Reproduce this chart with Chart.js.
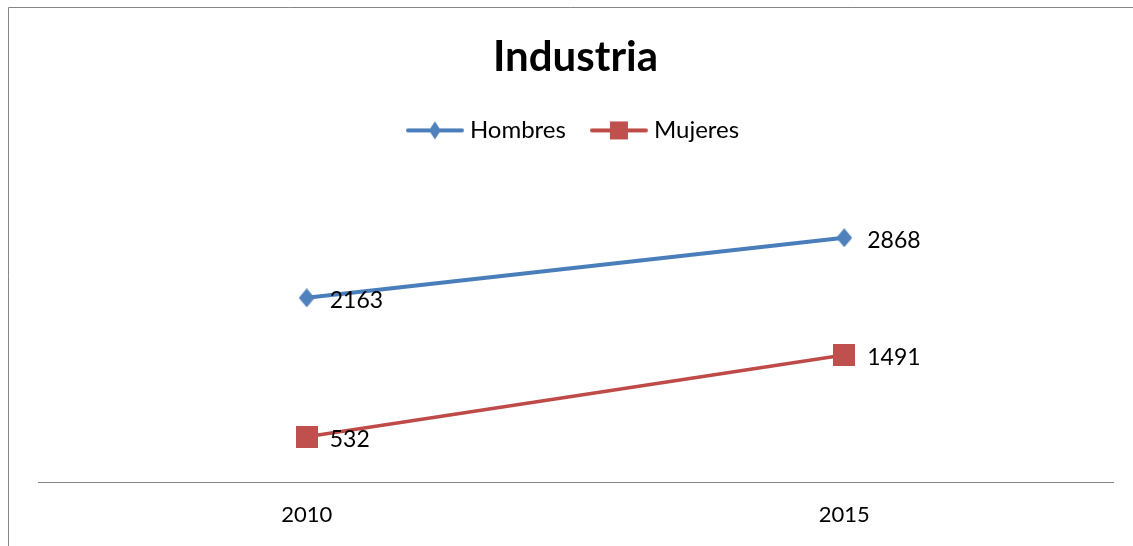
<!DOCTYPE html>
<html>
<head>
<meta charset="utf-8">
<script src="https://cdn.jsdelivr.net/npm/chart.js@4/dist/chart.umd.min.js"></script>
<style>
  html, body { margin: 0; padding: 0; background: #fff; overflow: hidden; }
  #wrap { position: relative; width: 1133px; height: 546px; }
</style>
</head>
<body>
<div id="wrap"><canvas id="c"></canvas></div>
<script>
const titleText = 'Industria';
const categories = ['2010', '2015'];
const seriesNames = ['Hombres', 'Mujeres'];
const hombres = [2163, 2868];
const mujeres = [532, 1491];
const yMin = 0;
const yMax = 3500;

const BLUE = '#4A7EBB';
const BLUE_FILL = '#4F81BD';
const RED = '#BE4B48';
const RED_FILL = '#C0504D';
const FONT = 'Lato';

function makeMarker(type, w, h, fill) {
  const c = document.createElement('canvas');
  c.width = w; c.height = h;
  const g = c.getContext('2d');
  g.fillStyle = fill;
  if (type === 'diamond') {
    g.beginPath();
    g.moveTo(w / 2, 0); g.lineTo(w, h / 2); g.lineTo(w / 2, h); g.lineTo(0, h / 2);
    g.closePath(); g.fill();
  } else {
    g.fillRect(0, 0, w, h);
  }
  return c;
}
function makeLegendIcon(type, lineColor, fill, mw, mh) {
  const W = 58, H = 20;
  const c = document.createElement('canvas');
  c.width = W; c.height = H;
  const g = c.getContext('2d');
  g.strokeStyle = lineColor; g.lineWidth = 4; g.lineCap = 'round';
  g.beginPath(); g.moveTo(2, H / 2); g.lineTo(W - 2, H / 2); g.stroke();
  g.fillStyle = fill;
  const cx = W / 2, cy = H / 2;
  if (type === 'diamond') {
    g.beginPath();
    g.moveTo(cx, cy - mh / 2); g.lineTo(cx + mw / 2, cy); g.lineTo(cx, cy + mh / 2); g.lineTo(cx - mw / 2, cy);
    g.closePath(); g.fill();
  } else {
    g.fillRect(cx - mw / 2, cy - mh / 2, mw, mh);
  }
  return c;
}

const diamond = makeMarker('diamond', 16, 19, BLUE_FILL);
const square = makeMarker('square', 22, 22, RED_FILL);
const legendIcons = [
  makeLegendIcon('diamond', BLUE, BLUE_FILL, 12, 18),
  makeLegendIcon('square', RED, RED_FILL, 18, 18)
];

const framePlugin = {
  id: 'frame',
  beforeDraw(chart) {
    const ctx = chart.ctx;
    ctx.save();
    ctx.strokeStyle = '#868686';
    ctx.lineWidth = 1;
    ctx.beginPath();
    ctx.moveTo(8.5, 546); ctx.lineTo(8.5, 7.5); ctx.lineTo(1133, 7.5);
    ctx.stroke();
    ctx.restore();
  }
};

const labelPlugin = {
  id: 'valueLabels',
  afterDatasetsDraw(chart) {
    const ctx = chart.ctx;
    ctx.save();
    ctx.font = '23px ' + FONT;
    ctx.fillStyle = '#000';
    ctx.textAlign = 'left';
    ctx.textBaseline = 'middle';
    chart.data.datasets.forEach((ds, i) => {
      chart.getDatasetMeta(i).data.forEach((pt, j) => {
        ctx.fillText(String(ds.data[j]), pt.x + 23, pt.y + 3);
      });
    });
    ctx.restore();
  }
};

const LEGEND_H = 95.6;
const boxSizePlugin = {
  id: 'boxSizes',
  beforeLayout(chart) {
    const l = chart.legend;
    if (l && !l._patched) {
      const lf = l.fit;
      l.fit = function () { lf.call(this); this.height = LEGEND_H; };
      l._patched = true;
    }
  }
};

new Chart(document.getElementById('c'), {
  type: 'line',
  data: {
    labels: categories,
    datasets: [
      {
        label: seriesNames[0],
        data: hombres,
        borderColor: BLUE,
        backgroundColor: BLUE_FILL,
        borderWidth: 4,
        pointStyle: diamond,
        pointRadius: 9,
        pointHoverRadius: 9,
        tension: 0
      },
      {
        label: seriesNames[1],
        data: mujeres,
        borderColor: RED,
        backgroundColor: RED_FILL,
        borderWidth: 3.5,
        pointStyle: square,
        pointRadius: 11,
        pointHoverRadius: 11,
        tension: 0
      }
    ]
  },
  options: {
    responsive: true,
    maintainAspectRatio: false,
    animation: false,
    events: [],
    layout: { padding: { top: 0, left: 38, right: 20, bottom: 0 } },
    plugins: {
      title: {
        display: true,
        text: titleText,
        color: '#000',
        font: { family: FONT, size: 42, weight: 'bold' },
        padding: { top: 32, bottom: 6 }
      },
      legend: {
        display: true,
        position: 'top',
        labels: {
          color: '#000',
          font: { family: FONT, size: 24 },
          usePointStyle: true,
          pointStyleWidth: 46,
          padding: 30,
          generateLabels(chart) {
            return chart.data.datasets.map((ds, i) => ({
              text: ds.label,
              pointStyle: legendIcons[i],
              fillStyle: ds.backgroundColor,
              strokeStyle: ds.borderColor,
              lineWidth: 0,
              hidden: false,
              datasetIndex: i,
              fontColor: '#000'
            }));
          }
        }
      },
      tooltip: { enabled: false }
    },
    scales: {
      x: {
        offset: true,
        grid: { display: false, drawTicks: false },
        border: { display: true, color: '#868686', width: 1 },
        ticks: { color: '#000', font: { family: FONT, size: 22 }, padding: 20 },
        afterFit(scale) { scale.height = 64; }
      },
      y: {
        display: false,
        min: yMin,
        max: yMax
      }
    }
  },
  plugins: [framePlugin, labelPlugin, boxSizePlugin]
});
</script>
</body>
</html>
